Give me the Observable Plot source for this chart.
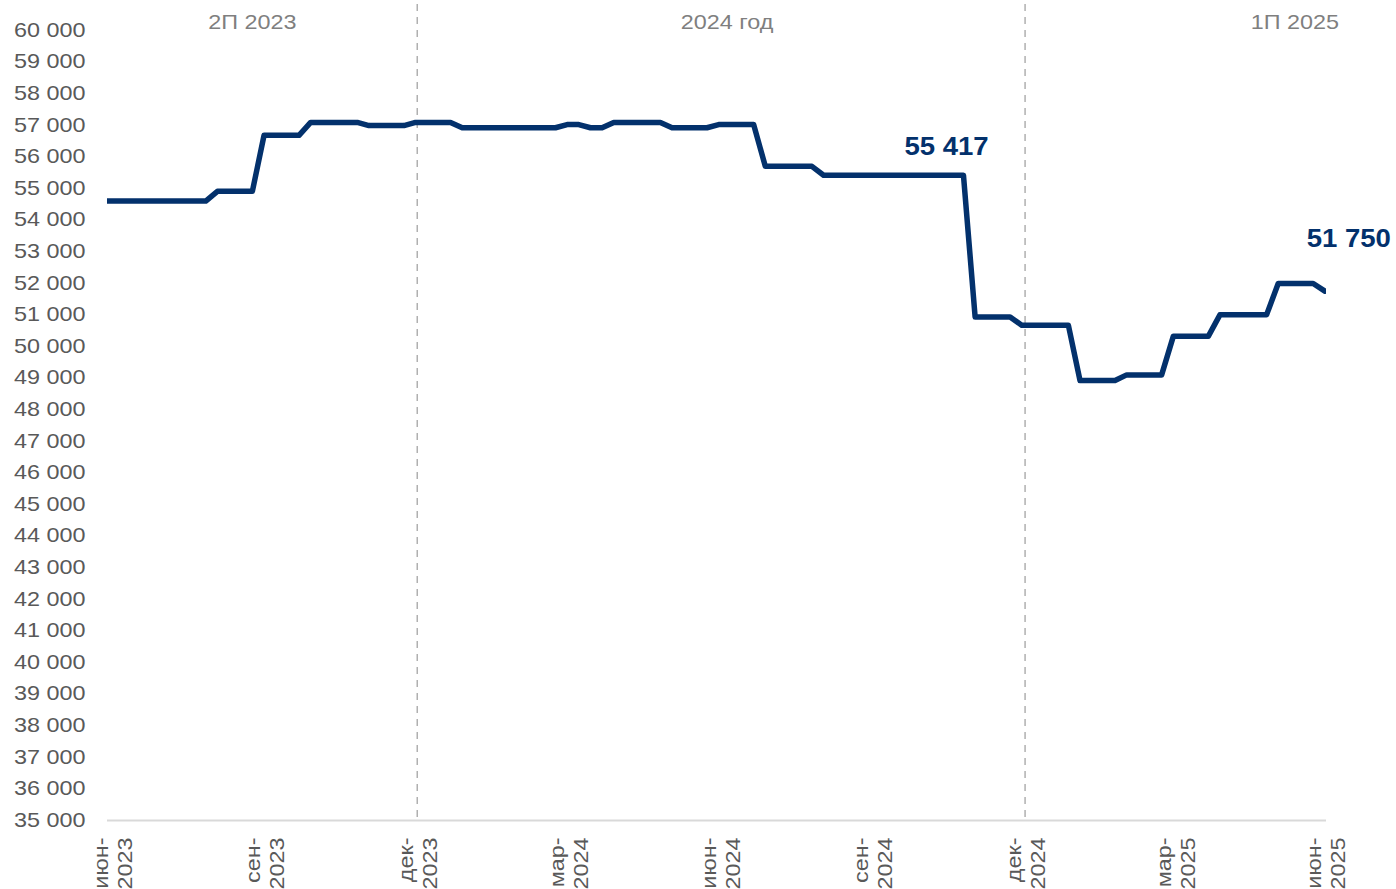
<!DOCTYPE html>
<html>
<head>
<meta charset="utf-8">
<script src="https://cdn.jsdelivr.net/npm/d3@7"></script>
<script src="https://cdn.jsdelivr.net/npm/@observablehq/plot@0.6"></script>
<style>
  html, body { margin: 0; padding: 0; background: #ffffff; }
  #chart svg { display: block; }
</style>
</head>
<body>
<div id="chart"></div>
<script>
// Weekly observations, first week (partly outside the visible axis) starts 2023-06-02
const weekStart = "2023-06-02";
const prices = [
  54600,
  54600, 54600, 54600, 54600, 54600, 54600, 54600, 54600, 54600,
  54910, 54910, 54910, 54910,
  56680, 56680, 56680, 56680,
  57090, 57090, 57090, 57090, 57090,
  56990, 56990, 56990, 56990,
  57090, 57090, 57090, 57090,
  56920, 56920, 56920, 56920, 56920, 56920, 56920, 56920, 56920,
  57020, 57020,
  56920, 56920,
  57090, 57090, 57090, 57090, 57090,
  56920, 56920, 56920, 56920,
  57020, 57020, 57020, 57020,
  55700, 55700, 55700, 55700, 55700,
  55417, 55417, 55417, 55417, 55417, 55417, 55417, 55417, 55417, 55417, 55417, 55417, 55417,
  50930, 50930, 50930, 50930,
  50670, 50670, 50670, 50670, 50670,
  48920, 48920, 48920, 48920,
  49100, 49100, 49100, 49100,
  50320, 50320, 50320, 50320,
  51000, 51000, 51000, 51000, 51000,
  51990, 51990, 51990, 51990,
  51750
];

const tickDates = ["2023-06-09","2023-09-08","2023-12-09","2024-03-09","2024-06-08","2024-09-07","2024-12-08","2025-03-08","2025-06-06"];
const tickLabels = ["июн-\n2023","сен-\n2023","дек-\n2023","мар-\n2024","июн-\n2024","сен-\n2024","дек-\n2024","мар-\n2025","июн-\n2025"];
const yTicks = [35000,36000,37000,38000,39000,40000,41000,42000,43000,44000,45000,46000,47000,48000,49000,50000,51000,52000,53000,54000,55000,56000,57000,58000,59000,60000];

const dividerDates = ["2023-12-09", "2024-12-08"];
const periodLabels = ["2П 2023", "2024 год", "1П 2025"];
const periodDates = ["2023-09-01", "2024-06-12", "2025-05-19"];

const calloutDates = ["2024-11-01", "2025-06-06"];
const calloutValues = [55417, 51750];

const parse = d3.utcParse("%Y-%m-%d");
const data = prices.map((v, i) => ({date: d3.utcDay.offset(parse(weekStart), 7 * i), price: v}));
const ticks = tickDates.map((d, i) => ({date: parse(d), label: tickLabels[i]}));
const periods = periodLabels.map((t, i) => ({date: parse(periodDates[i]), label: t}));
const fmt = v => d3.format(",")(v).replace(/,/g, " ");
const callouts = calloutDates.map((d, i) => ({date: parse(d), value: calloutValues[i], label: fmt(calloutValues[i])}));

const navy = "#03316c";

const chart = Plot.plot({
  width: 1396,
  height: 889,
  marginLeft: 107,
  marginRight: 70,
  marginTop: 4,
  marginBottom: 69,
  style: {fontFamily: "'Liberation Sans', Arial, sans-serif", fontSize: "20px", background: "#ffffff"},
  x: {type: "utc", domain: [parse("2023-06-06"), parse("2025-06-07")], axis: null},
  y: {domain: [35000, 60820], axis: null},
  marks: [
    Plot.ruleX(dividerDates.map(parse), {stroke: "#b0b0b0", strokeWidth: 1.5, strokeDasharray: "7,6"}),
    Plot.ruleY([35000], {stroke: "#d9d9d9", strokeWidth: 2}),
    Plot.axisY({ticks: yTicks, tickSize: 0, tickPadding: 22, tickFormat: fmt, fill: "#595959", fontSize: 20, className: "wide"}),
    Plot.text(ticks, {x: "date", text: "label", frameAnchor: "bottom", dy: 17, rotate: -90, textAnchor: "end", lineAnchor: "middle", lineHeight: 1.2, fill: "#595959", fontSize: 20, className: "wide"}),
    Plot.text(periods, {x: "date", text: "label", frameAnchor: "top", dy: 10, fill: "#7f7f7f", fontSize: 20, className: "wide"}),
    Plot.line(data, {x: "date", y: "price", stroke: navy, strokeWidth: 5.5, strokeLinejoin: "round", strokeLinecap: "round", clip: true}),
    Plot.text([callouts[0]], {x: "date", y: "value", text: "label", dx: -17, dy: -28, fill: navy, fontWeight: "bold", fontSize: 25.5, className: "bold"}),
    Plot.text([callouts[1]], {x: "date", y: "value", text: "label", dx: 24, dy: -52, fill: navy, fontWeight: "bold", fontSize: 25.5, className: "bold"})
  ]
});

// the reference typeface is drawn slightly wider than Liberation Sans: stretch glyphs along the text direction
function stretch(selector, s) {
  d3.select(chart).selectAll(selector).selectAll("text").each(function() {
    const t = this.getAttribute("transform");
    if (t) this.setAttribute("transform", t + ` scale(${s},1)`);
  });
}
stretch("g.wide", 1.17);
stretch("g.bold", 1.08);

document.getElementById("chart").append(chart);
</script>
</body>
</html>
